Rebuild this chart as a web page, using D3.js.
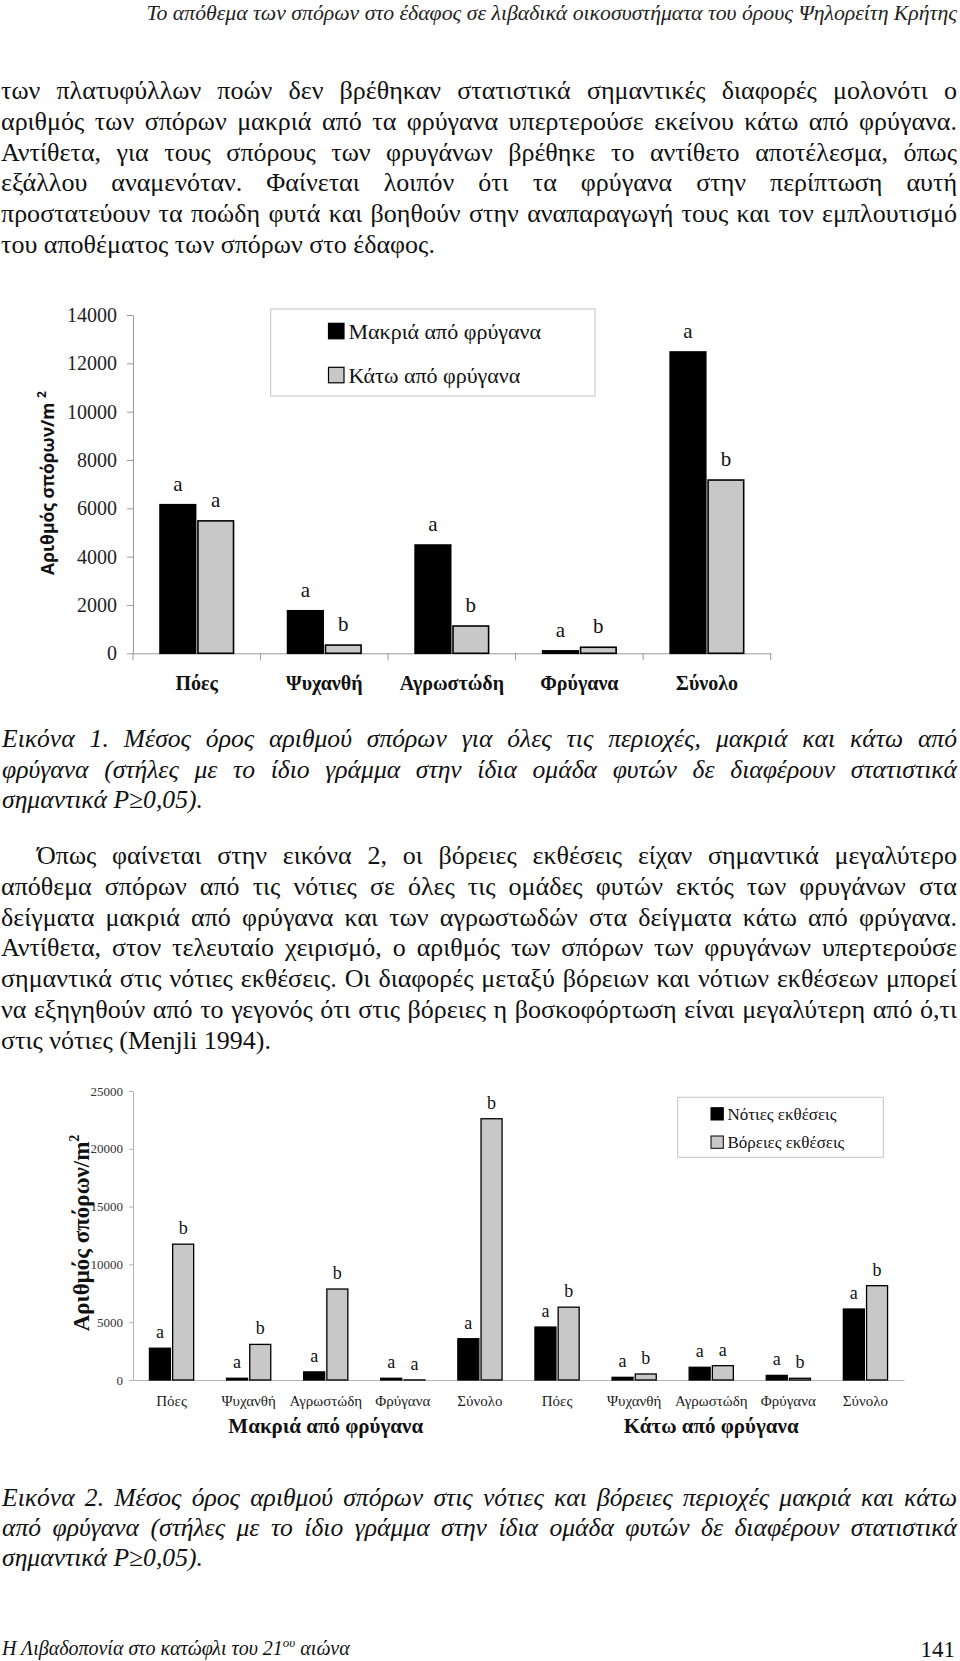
<!DOCTYPE html>
<html>
<head>
<meta charset="utf-8">
<script src="https://cdn.jsdelivr.net/npm/d3@7"></script>
<style>
  html, body { margin: 0; padding: 0; background: #fff; }
  svg { display: block; }
</style>
</head>
<body>
<script>
// ---------------- DATA ----------------
const categories = ["Πόες", "Ψυχανθή", "Αγρωστώδη", "Φρύγανα", "Σύνολο"];

// Figure 1
const fig1Series = ["Μακριά από φρύγανα", "Κάτω από φρύγανα"];
const fig1Far = [6150, 1760, 4480, 100, 12470];
const fig1Under = [5480, 340, 1130, 250, 7170];
const fig1FarLetters = ["a", "a", "a", "a", "a"];
const fig1UnderLetters = ["a", "b", "b", "b", "b"];
const fig1Ticks = [0, 2000, 4000, 6000, 8000, 10000, 12000, 14000];

// Figure 2
const fig2Groups = ["Μακριά από φρύγανα", "Κάτω από φρύγανα"];
const fig2Series = ["Νότιες εκθέσεις", "Βόρειες εκθέσεις"];
const fig2South = [2750, 150, 700, 150, 3570, 4580, 230, 1100, 400, 6140];
const fig2North = [11750, 3080, 7870, 10, 22600, 6300, 520, 1240, 150, 8160];
const fig2SouthLetters = ["a", "a", "a", "a", "a", "a", "a", "a", "a", "a"];
const fig2NorthLetters = ["b", "b", "b", "a", "b", "b", "b", "a", "b", "b"];
const fig2Ticks = [0, 5000, 10000, 15000, 20000, 25000];

// Text
const headerText = "Το απόθεμα των σπόρων στο έδαφος σε λιβαδικά οικοσυστήματα του όρους Ψηλορείτη Κρήτης";
const para1 = [
  "των πλατυφύλλων ποών δεν βρέθηκαν στατιστικά σημαντικές διαφορές μολονότι ο",
  "αριθμός των σπόρων μακριά από τα φρύγανα υπερτερούσε εκείνου κάτω από φρύγανα.",
  "Αντίθετα, για τους σπόρους των φρυγάνων βρέθηκε το αντίθετο αποτέλεσμα, όπως",
  "εξάλλου αναμενόταν. Φαίνεται λοιπόν ότι τα φρύγανα στην περίπτωση αυτή",
  "προστατεύουν τα ποώδη φυτά και βοηθούν στην αναπαραγωγή τους και τον εμπλουτισμό",
  "του αποθέματος των σπόρων στο έδαφος."
];
const caption1 = [
  "Εικόνα 1. Μέσος όρος αριθμού σπόρων για όλες τις περιοχές, μακριά και κάτω από",
  "φρύγανα (στήλες με το ίδιο γράμμα στην ίδια ομάδα φυτών δε διαφέρουν στατιστικά",
  "σημαντικά P≥0,05)."
];
const para2 = [
  "Όπως φαίνεται στην εικόνα 2, οι βόρειες εκθέσεις είχαν σημαντικά μεγαλύτερο",
  "απόθεμα σπόρων από τις νότιες σε όλες τις ομάδες φυτών εκτός των φρυγάνων στα",
  "δείγματα μακριά από φρύγανα και των αγρωστωδών στα δείγματα κάτω από φρύγανα.",
  "Αντίθετα, στον τελευταίο χειρισμό, ο αριθμός των σπόρων των φρυγάνων υπερτερούσε",
  "σημαντικά στις νότιες εκθέσεις. Οι διαφορές μεταξύ βόρειων και νότιων εκθέσεων μπορεί",
  "να εξηγηθούν από το γεγονός ότι στις βόρειες η βοσκοφόρτωση είναι μεγαλύτερη από ό,τι",
  "στις νότιες  (Menjli 1994)."
];
const caption2 = [
  "Εικόνα 2. Μέσος όρος αριθμού σπόρων στις νότιες και βόρειες περιοχές μακριά και κάτω",
  "από φρύγανα (στήλες με το ίδιο γράμμα στην ίδια ομάδα φυτών δε διαφέρουν στατιστικά",
  "σημαντικά P≥0,05)."
];
const footerLeft = ["Η Λιβαδοπονία στο κατώφλι του 21", "ου", " αιώνα"];
const pageNumber = "141";

// ---------------- SETUP ----------------
const SERIF = "'Liberation Serif', 'Times New Roman', 'DejaVu Serif', serif";
const SANS = "'Open Sans', 'Noto Sans', 'DejaVu Sans', sans-serif";
const GREY = "#c8c8c8";

const svg = d3.select("body").append("svg")
  .attr("width", 960).attr("height", 1661)
  .attr("viewBox", "0 0 960 1661");

function measure(str, size, style, weight) {
  const t = svg.append("text")
    .attr("font-family", SERIF).attr("font-size", size)
    .attr("font-style", style || "normal").attr("font-weight", weight || "normal")
    .text(str);
  const w = t.node().getComputedTextLength();
  t.remove();
  return w;
}
function fit(str, target, style, weight) {
  return 50 * target / measure(str, 50, style, weight);
}

function drawLine(str, x0, x1, y, size, style, justify) {
  const words = str.split(/\s+/).filter(w => w.length);
  const t = svg.append("text")
    .attr("font-family", SERIF).attr("font-size", size)
    .attr("font-style", style).attr("fill", "#111").attr("y", y);
  const spans = words.map(w => t.append("tspan").text(w));
  const widths = spans.map(s => s.node().getComputedTextLength());
  const spaceW = measure("a b", size, style) - measure("ab", size, style);
  const total = d3.sum(widths);
  const gap = (justify && words.length > 1) ? (x1 - x0 - total) / (words.length - 1) : spaceW;
  let x = x0;
  spans.forEach((s, i) => { s.attr("x", x); x += widths[i] + gap; });
}

function drawBlock(lines, x0, x1, y0, lh, size, style, indent) {
  lines.forEach((ln, i) => {
    drawLine(ln, x0 + (i === 0 ? (indent || 0) : 0), x1, y0 + i * lh, size, style, i < lines.length - 1);
  });
}

// ---------------- TEXT ----------------
const headerSize = fit(headerText, 811, "italic");
svg.append("text").attr("x", 957).attr("y", 19.5)
  .attr("text-anchor", "end").attr("font-family", SERIF)
  .attr("font-style", "italic").attr("font-size", headerSize).attr("fill", "#222")
  .text(headerText);

const bodySize = fit(para1[5], 434);
const capSize = fit(caption1[2], 201, "italic");

drawBlock(para1, 1, 957, 99, 30.8, bodySize, "normal", 0);
drawBlock(caption1, 2, 957, 747, 30.7, capSize, "italic", 0);
drawBlock(para2, 1, 957, 864, 30.8, bodySize, "normal", 36);
drawBlock(caption2, 2, 957, 1505.5, 30, capSize, "italic", 0);

// footer
const ft = svg.append("text").attr("x", 2).attr("y", 1655)
  .attr("font-family", SERIF).attr("font-style", "italic").attr("font-size", 20).attr("fill", "#111");
ft.append("tspan").text(footerLeft[0]);
ft.append("tspan").attr("font-size", 13).attr("dy", -8).text(footerLeft[1]);
ft.append("tspan").attr("dy", 8).text(footerLeft[2]);
svg.append("text").attr("x", 955).attr("y", 1657).attr("text-anchor", "end")
  .attr("font-family", SERIF).attr("font-size", 23).attr("fill", "#111").text(pageNumber);

// ---------------- FIGURE 1 ----------------
(function () {
  const left = 133, right = 770.7, top = 315, bottom = 653.3;
  const x = d3.scaleBand().domain(categories).range([left, right]);
  const y = d3.scaleLinear().domain([0, 14000]).range([bottom, top]);
  const bw = 35.6, gap = 2.3;
  const xs = d3.scaleBand().domain([0, 1]).range([-(bw + gap / 2), bw + gap / 2])
    .paddingInner(gap / (bw + gap)).paddingOuter(0);
  const g = svg.append("g");

  // y axis
  const ya = g.append("g").attr("transform", `translate(${left},0)`)
    .call(d3.axisLeft(y).tickValues(fig1Ticks).tickSize(6).tickSizeOuter(0).tickPadding(10).tickFormat(d3.format("d")));
  ya.select(".domain").attr("stroke", "#9a9a9a");
  ya.selectAll(".tick line").attr("stroke", "#9a9a9a");
  ya.selectAll(".tick text").attr("font-family", SERIF).attr("font-size", 20).attr("fill", "#222");

  // x axis
  const xa = g.append("g").attr("transform", `translate(0,${bottom})`)
    .call(d3.axisBottom(x).tickSize(0).tickSizeOuter(0).tickPadding(22.5));
  xa.select(".domain").attr("stroke", "#9a9a9a");
  xa.selectAll(".tick text").attr("font-family", SERIF).attr("font-size", 20)
    .attr("font-weight", "bold").attr("fill", "#111");
  const bounds = categories.map(c => x(c)).concat([x.range()[1]]);
  g.selectAll(".sep").data(bounds).join("line")
    .attr("x1", d => d).attr("x2", d => d)
    .attr("y1", bottom).attr("y2", bottom + 7).attr("stroke", "#9a9a9a");

  const seriesVals = [fig1Far, fig1Under];
  const seriesLetters = [fig1FarLetters, fig1UnderLetters];
  const fills = ["#000", GREY];
  seriesVals.forEach((vals, si) => {
    const cx = c => x(c) + x.bandwidth() / 2 + xs(si);
    g.selectAll(null).data(categories).join("rect")
      .attr("x", c => cx(c)).attr("width", xs.bandwidth())
      .attr("y", (c, i) => y(vals[i])).attr("height", (c, i) => y(0) - y(vals[i]))
      .attr("fill", fills[si]).attr("stroke", "#000").attr("stroke-width", 1.6);
    g.selectAll(null).data(categories).join("text")
      .attr("x", c => cx(c) + xs.bandwidth() / 2)
      .attr("y", (c, i) => y(vals[i]) - 14)
      .attr("text-anchor", "middle").attr("font-family", SERIF).attr("font-size", 21).attr("fill", "#111")
      .text((c, i) => seriesLetters[si][i]);
  });

  // legend
  const lg = g.append("g");
  lg.append("rect").attr("x", 270.7).attr("y", 309).attr("width", 324.3).attr("height", 87)
    .attr("fill", "#fff").attr("stroke", "#c4c4c4").attr("stroke-width", 1);
  fig1Series.forEach((s, i) => {
    const yy = 323.3 + i * 44;
    lg.append("rect").attr("x", 328.5).attr("y", yy).attr("width", 15.5).attr("height", 15.5)
      .attr("fill", fills[i]).attr("stroke", "#000").attr("stroke-width", 1.2);
    lg.append("text").attr("x", 348.5).attr("y", yy + 16).attr("font-family", SERIF)
      .attr("font-size", 22).attr("fill", "#111").text(s);
  });

  // y title
  const yt = g.append("text").attr("transform", "translate(54,483) rotate(-90)")
    .attr("text-anchor", "middle").attr("font-family", SANS).attr("font-weight", "bold")
    .attr("font-size", 17.5).attr("fill", "#111");
  yt.append("tspan").text("Αριθμός σπόρων/m ");
  yt.append("tspan").attr("font-size", 12).attr("dy", -8).text("2");
})();

// ---------------- FIGURE 2 ----------------
(function () {
  const left = 133, right = 904, top = 1091, bottom = 1380;
  const idx = d3.range(fig2South.length);
  const x = d3.scaleBand().domain(idx).range([left, right]);
  const y = d3.scaleLinear().domain([0, 25000]).range([bottom, top]);
  const bw = 21, gap = 2.2;
  const xs = d3.scaleBand().domain([0, 1]).range([-(bw + gap / 2), bw + gap / 2])
    .paddingInner(gap / (bw + gap)).paddingOuter(0);
  const g = svg.append("g");

  const ya = g.append("g").attr("transform", `translate(${left},0)`)
    .call(d3.axisLeft(y).tickValues(fig2Ticks).tickSize(4).tickSizeOuter(0).tickPadding(6).tickFormat(d3.format("d")));
  ya.select(".domain").attr("stroke", "#b4b4b4");
  ya.selectAll(".tick line").attr("stroke", "#b4b4b4");
  ya.selectAll(".tick text").attr("font-family", SERIF).attr("font-size", 13).attr("fill", "#333");

  const xa = g.append("g").attr("transform", `translate(0,${bottom})`)
    .call(d3.axisBottom(x).tickSize(0).tickSizeOuter(0).tickPadding(15.5)
      .tickFormat(i => categories[i % categories.length]));
  xa.select(".domain").attr("stroke", "#b4b4b4");
  xa.selectAll(".tick text").attr("font-family", SERIF).attr("font-size", 15).attr("fill", "#222");

  const seriesVals = [fig2South, fig2North];
  const seriesLetters = [fig2SouthLetters, fig2NorthLetters];
  const fills = ["#000", GREY];
  seriesVals.forEach((vals, si) => {
    const cx = i => x(i) + x.bandwidth() / 2 + xs(si);
    g.selectAll(null).data(idx).join("rect")
      .attr("x", i => cx(i)).attr("width", xs.bandwidth())
      .attr("y", i => y(vals[i])).attr("height", i => y(0) - y(vals[i]))
      .attr("fill", fills[si]).attr("stroke", "#000").attr("stroke-width", 1.3);
    g.selectAll(null).data(idx).join("text")
      .attr("x", i => cx(i) + xs.bandwidth() / 2)
      .attr("y", i => y(vals[i]) - 10)
      .attr("text-anchor", "middle").attr("font-family", SERIF).attr("font-size", 18).attr("fill", "#111")
      .text(i => seriesLetters[si][i]);
  });

  // group labels
  const per = categories.length;
  fig2Groups.forEach((gname, gi) => {
    const cx = (x(gi * per) + x(gi * per + per - 1) + x.bandwidth()) / 2;
    g.append("text").attr("x", cx).attr("y", 1433).attr("text-anchor", "middle")
      .attr("font-family", SERIF).attr("font-weight", "bold").attr("font-size", 21)
      .attr("fill", "#111").text(gname);
  });

  // legend
  const lg = g.append("g");
  lg.append("rect").attr("x", 677.7).attr("y", 1097.3).attr("width", 205.6).attr("height", 60)
    .attr("fill", "#fff").attr("stroke", "#c4c4c4").attr("stroke-width", 1);
  fig2Series.forEach((s, i) => {
    const yy = 1107.7 + i * 28.3;
    lg.append("rect").attr("x", 711).attr("y", yy).attr("width", 12.3).attr("height", 12.3)
      .attr("fill", fills[i]).attr("stroke", "#000").attr("stroke-width", 1);
    lg.append("text").attr("x", 727.5).attr("y", yy + 12).attr("font-family", SERIF)
      .attr("font-size", 17).attr("fill", "#111").text(s);
  });

  // y title
  const yt = g.append("text").attr("transform", "translate(89,1233) rotate(-90)")
    .attr("text-anchor", "middle").attr("font-family", SERIF).attr("font-weight", "bold")
    .attr("font-size", 23).attr("fill", "#111");
  yt.append("tspan").text("Αριθμός σπόρων/m");
  yt.append("tspan").attr("font-size", 14).attr("dy", -10).text("2");
})();
</script>
</body>
</html>
